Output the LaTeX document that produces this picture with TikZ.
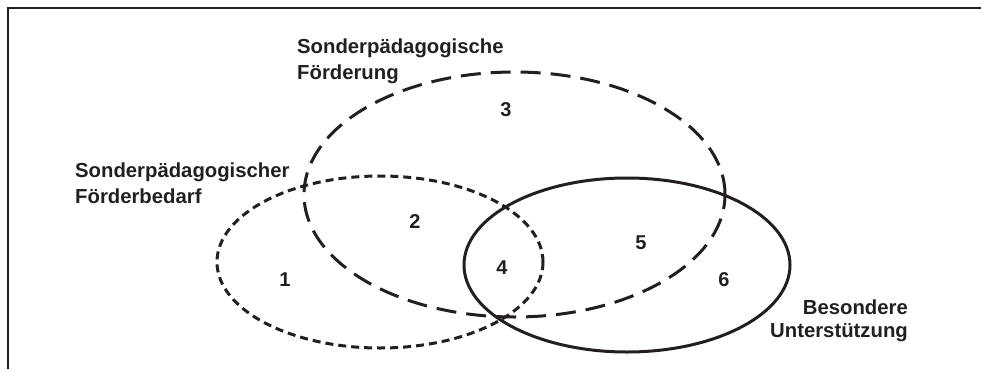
\documentclass[tikz,border=0pt]{standalone}
\usepackage{fontspec}
\setmainfont{Liberation Sans}
\usetikzlibrary{shapes.geometric}
\definecolor{ink}{HTML}{231F20}
\begin{document}
\begin{tikzpicture}[x=1pt,y=-1pt,
  venn/.style={ellipse, inner sep=0pt, line width=3pt, draw=ink},
  shortdash/.style={venn, dash pattern=on 8pt off 5pt},
  longdash/.style={venn, dash pattern=on 20pt off 10pt},
  lbl/.style={inner sep=0pt, text=ink, font=\fontsize{20.3}{25.5}\selectfont\bfseries, align=left},
  num/.style={inner sep=0pt, text=ink, font=\fontsize{20}{22}\selectfont\bfseries}]
\useasboundingbox (0,0) rectangle (981,369);
% frame
\coordinate (fbl) at (8,369);
\coordinate (ftl) at (8,8);
\coordinate (ftr) at (981,8);
\draw[line width=2.2pt, draw=ink] (fbl) -- (ftl) -- (ftr);
% ellipses
\node[longdash, minimum width=421pt, minimum height=245pt] (foerd) at (514.5,194.5) {};
\node[shortdash, minimum width=326pt, minimum height=172pt] (bedarf) at (380,262) {};
\node[venn, minimum width=326pt, minimum height=174pt] (unter) at (627,265) {};
% labels (base anchor = baseline of last line)
\node[lbl, anchor=base west] (lfoerd) at (297,79) {Sonderpädagogische\\Förderung};
\node[lbl, anchor=base west] (lbedarf) at (75,203) {Sonderpädagogischer\\Förderbedarf};
\node[lbl, anchor=base east, align=right, font=\fontsize{20.3}{23}\selectfont\bfseries] (lunter) at (908,337) {Besondere\\Unterstützung};
% numbers
\node[num] (n1) at (285,280) {1};
\node[num] (n2) at (415,222) {2};
\node[num] (n3) at (506,110) {3};
\node[num] (n4) at (502,268) {4};
\node[num] (n5) at (641,243) {5};
\node[num] (n6) at (724,280) {6};
\end{tikzpicture}
\end{document}
